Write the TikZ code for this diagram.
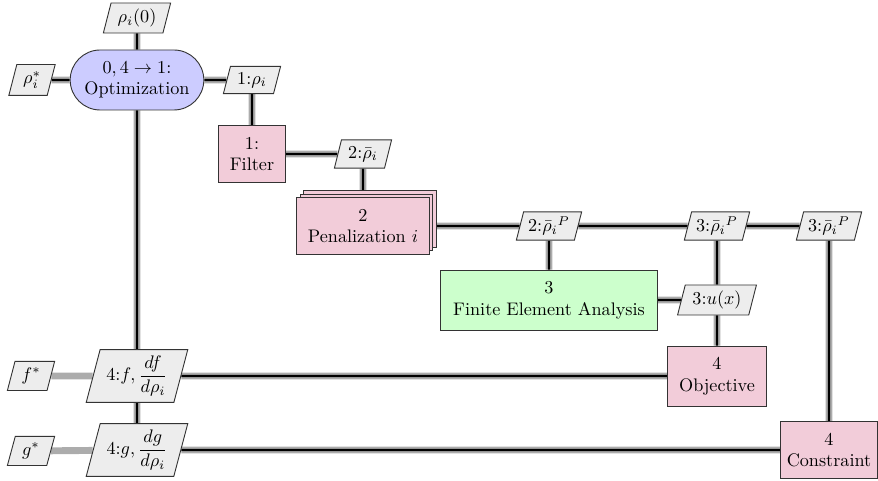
\documentclass[tikz,border=0pt]{standalone}
\usepackage{amsmath}
\usetikzlibrary{shapes.geometric,shapes.misc,shadows,backgrounds}
\definecolor{optcol}{RGB}{204,204,255}
\definecolor{funccol}{RGB}{242,204,217}
\definecolor{anacol}{RGB}{204,255,204}
\definecolor{datacol}{RGB}{237,237,237}
\begin{document}
\begin{tikzpicture}[x=0.55pt,y=-0.55pt,
  base/.style={draw=black!80, line width=0.5pt, align=center, inner sep=2pt},
  optbox/.style={base, rounded rectangle, fill=optcol, minimum width=77.5pt, minimum height=33pt},
  funcbox/.style={base, rectangle, fill=funccol},
  anabox/.style={base, rectangle, fill=anacol},
  databox/.style={base, trapezium, trapezium left angle=75, trapezium right angle=105,
                  trapezium stretches=true, fill=datacol},
  dataline/.style={draw=black, line width=1.2pt, preaction={draw=gray!65, line width=3.7pt}},
  extline/.style={draw=gray!65, line width=3.8pt}]
\useasboundingbox (0,0) rectangle (878,481);

\node[databox, minimum width=37pt, minimum height=16.5pt] (rho0) at (137,18) {$\rho_i(0)$};
\node[optbox] (opt) at (137,80) {$0, 4 \to 1$:\\Optimization};
\node[databox, minimum width=25.5pt, minimum height=17pt] (rhostar) at (32,80) {$\rho_i^*$};
\node[databox, minimum width=31.5pt, minimum height=15pt] (d1) at (252,80) {$1{:}\rho_i$};
\node[funcbox, minimum width=37pt, minimum height=31pt] (filter) at (252,154) {1:\\Filter};
\node[databox, minimum width=31.5pt, minimum height=15.5pt] (d2) at (363,154) {$2{:}\bar{\rho}_i$};
\node[funcbox, minimum width=73pt, minimum height=31pt,
      double copy shadow={shadow xshift=1.9pt, shadow yshift=1.9pt}] (pen) at (363,226) {2\\Penalization $i$};
\node[databox, minimum width=36pt, minimum height=15.5pt] (d2P) at (549,226) {$2{:}\bar{\rho}_i{}^P$};
\node[databox, minimum width=36pt, minimum height=15.5pt] (d3Po) at (717,226) {$3{:}\bar{\rho}_i{}^P$};
\node[databox, minimum width=36pt, minimum height=15.5pt] (d3Pc) at (829,226) {$3{:}\bar{\rho}_i{}^P$};
\node[anabox, minimum width=119pt, minimum height=33pt] (fea) at (549,300) {3\\Finite Element Analysis};
\node[databox, minimum width=43.5pt, minimum height=16.5pt] (du) at (717,300) {$3{:}u(x)$};
\node[funcbox, minimum width=54.5pt, minimum height=33pt] (obj) at (717,376) {4\\Objective};
\node[funcbox, minimum width=53.5pt, minimum height=31pt] (con) at (829,450) {4\\Constraint};
\node[databox, minimum width=56pt, minimum height=29pt] (df) at (137,376) {$4{:}f, \dfrac{df}{d\rho_i}$};
\node[databox, minimum width=56pt, minimum height=29pt] (dg) at (137,450) {$4{:}g, \dfrac{dg}{d\rho_i}$};
\node[databox, minimum width=26pt, minimum height=16pt] (fstar) at (31,376) {$f^*$};
\node[databox, minimum width=26pt, minimum height=16pt] (gstar) at (31,451) {$g^*$};

\begin{pgfonlayer}{background}
\draw[extline] (fstar) -- (df);
\draw[extline] (gstar) -- (dg);
\draw[dataline] (rho0) -- (opt);
\draw[dataline] (rhostar) -- (opt);
\draw[dataline] (opt) -- (d1) -- (filter);
\draw[dataline] (filter) -- (d2) -- (pen);
\draw[dataline] (pen) -- (d2P) -- (d3Po) -- (d3Pc);
\draw[dataline] (d2P) -- (fea);
\draw[dataline] (fea) -- (du);
\draw[dataline] (d3Po) -- (du) -- (obj);
\draw[dataline] (d3Pc) -- (con);
\draw[dataline] (opt) -- (df) -- (dg);
\draw[dataline] (df) -- (obj);
\draw[dataline] (dg) -- (con);
\end{pgfonlayer}
\end{tikzpicture}
\end{document}
